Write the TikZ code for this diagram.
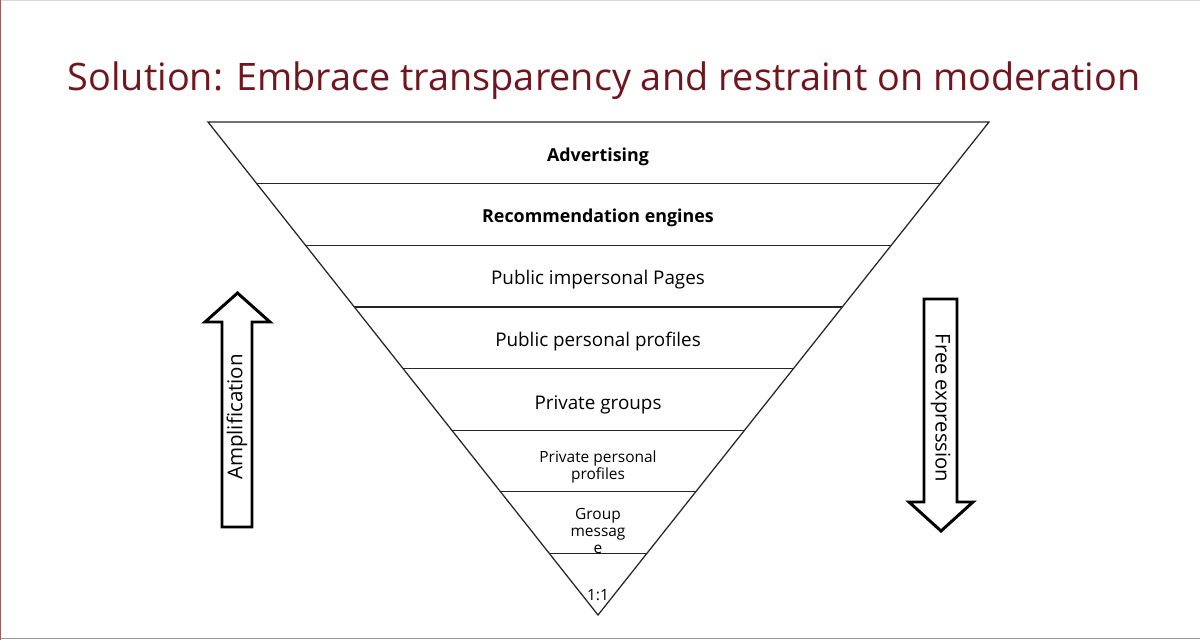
\documentclass[tikz,border=0pt]{standalone}
\usepackage{fontspec}
\setmainfont{Open Sans}
\usepackage{tikz}
\usetikzlibrary{calc, positioning}
\definecolor{titlered}{RGB}{112,22,30}

\begin{document}
\begin{tikzpicture}[x=0.025cm, y=-0.025cm,
    every node/.style={font=\fontsize{13.4}{15}\selectfont, inner sep=0pt},
    small/.style={font=\fontsize{11}{12.4}\selectfont, align=center},
    boldlayer/.style={font=\fontsize{12.7}{15}\selectfont\bfseries},
    bigarrow/.style={draw, line width=2.1pt, fill=white, line join=miter}]
    \useasboundingbox (0,0) rectangle (1200,640);

    % Frame
    \draw[gray!30, line width=0.8pt] (0,0.5) -- (1200,0.5);
    \draw[gray!80, line width=1pt] (0,638.5) -- (1200,638.5);
    \draw[titlered!70, line width=0.8pt] (0.8,0) -- (0.8,640);

    % Title
    \node[anchor=base, font=\fontsize{26.9}{30}\selectfont, text=titlered] (title) at (604,90)
        {Solution: Embrace transparency and restraint on moderation};

    % Inverted pyramid
    \coordinate (tl) at (208,122);
    \coordinate (tr) at (989,122);
    \coordinate (apex) at (598,615);
    \draw[black!85, line width=0.9pt, line join=miter] (tl) -- (tr) -- (apex) -- cycle;
    \foreach \i in {1,...,7}
        \draw[black!85, line width=0.9pt] ($(tl)!\i/8!(apex)$) -- ($(tr)!\i/8!(apex)$);

    % Layer labels
    \node[boldlayer] (l1) at (598,157) {Advertising};
    \node[boldlayer] (l2) at (598,218) {Recommendation engines};
    \node (l3) at (598,280) {Public impersonal Pages};
    \node (l4) at (598,342) {Public personal profiles};
    \node (l5) at (598,405) {Private groups};
    \node[small] (l6) at (598,467) {Private personal\\profiles};
    \node[small] (l7) at (598,531) {Group\\messag\\e};
    \node[small] (l8) at (598,595) {1:1};

    % Side arrows
    \draw[bigarrow] (222,527) -- (222,322) -- (205,322) -- (237.5,293) -- (270,322)
        -- (252,322) -- (252,527) -- cycle;
    \node[rotate=90, font=\fontsize{14.6}{16}\selectfont] (amp) at (237,417) {Amplification};

    \draw[bigarrow] (924,299) -- (957,299) -- (957,502) -- (973,502) -- (941,531)
        -- (909,502) -- (924,502) -- cycle;
    \node[rotate=-90, font=\fontsize{14.4}{16}\selectfont] (free) at (940.5,408) {Free expression};
\end{tikzpicture}
\end{document}
